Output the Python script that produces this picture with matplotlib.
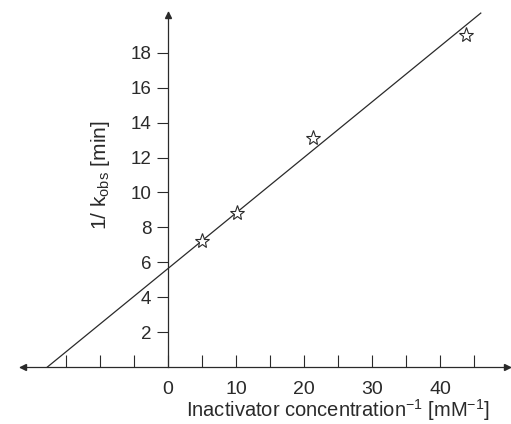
import matplotlib.pyplot as plt

# data
inv_conc = [5.0, 10.1, 21.3, 43.8]
inv_kobs = [7.2, 8.85, 13.1, 19.0]
fit_x = [-17.8, 46.0]
fit_slope = 0.318
fit_icpt = 5.65

x_ticks = list(range(-15, 50, 5))
x_labels = ['0', '10', '20', '30', '40']
y_ticks = list(range(2, 20, 2))

plt.rcParams['font.family'] = ['Liberation Sans', 'DejaVu Sans']
plt.rcParams['mathtext.fontset'] = 'custom'
plt.rcParams['mathtext.rm'] = 'Liberation Sans'
ink = '#2a2a2a'

fig = plt.figure(figsize=(5.11, 4.24), dpi=100)
ax = fig.add_axes([20 / 511, 57 / 424, 490 / 511, 355 / 424])
xmin, xmax = -21.8, 50.3
ymin, ymax = 0, 20.34
ax.set_xlim(xmin, xmax)
ax.set_ylim(ymin, ymax)

# fitted line and data points
fit_y = [fit_slope * x + fit_icpt for x in fit_x]
ax.plot(fit_x, fit_y, color=ink, lw=0.9)
ax.plot(inv_conc, inv_kobs, ls='none', marker='*', ms=11, mfc='white',
        mec=ink, mew=0.8)

# axes crossing at the origin
for side in ['top', 'right']:
    ax.spines[side].set_visible(False)
ax.spines['left'].set_position(('data', 0))
ax.spines['bottom'].set_position(('data', 0))
for side in ['left', 'bottom']:
    ax.spines[side].set_color(ink)
    ax.spines[side].set_linewidth(0.9)

ax.plot([xmin + 0.5], [0], marker='<', ms=5, color=ink, clip_on=False)
ax.plot([xmax - 0.5], [0], marker='>', ms=5, color=ink, clip_on=False)
ax.plot([0], [ymax - 0.2], marker='^', ms=5, color=ink, clip_on=False)

ax.set_xticks(x_ticks)
ax.set_xticklabels([str(t) if str(t) in x_labels else '' for t in x_ticks])
ax.set_yticks(y_ticks)
ax.tick_params(axis='x', direction='in', length=9, width=0.8, color=ink,
               pad=10, labelsize=14, labelcolor=ink)
ax.tick_params(axis='y', direction='out', length=8, width=0.8, color=ink,
               pad=4, labelsize=13.5, labelcolor=ink)

fig.text(338 / 511, 1 - 410 / 424,
         'Inactivator concentration$^{\\mathrm{-1}}$ [mM$^{\\mathrm{-1}}$]',
         ha='center', va='center', fontsize=14.5, color=ink)
fig.text(101 / 511, 1 - 175 / 424, '1/ k$_{\\mathrm{obs}}$ [min]',
         ha='center', va='center', rotation=90, fontsize=15, color=ink)

fig.savefig('out.png', dpi=100)
